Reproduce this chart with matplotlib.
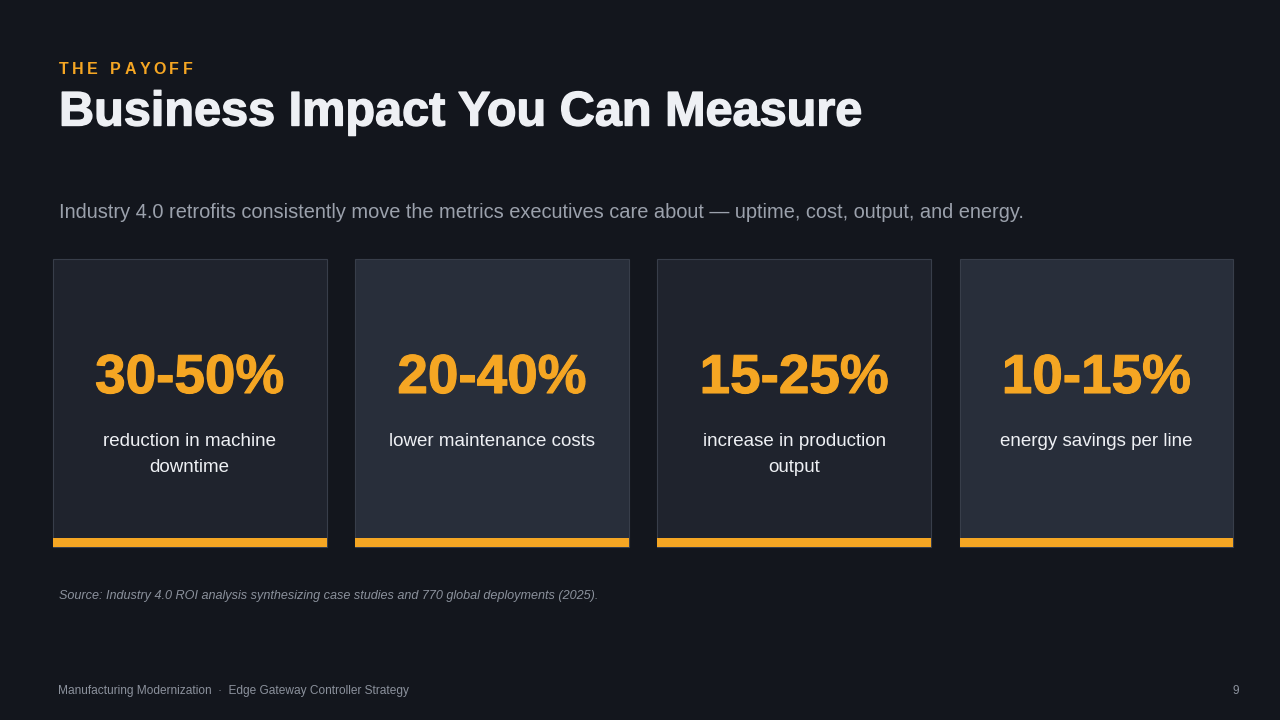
import matplotlib
matplotlib.use("Agg")
import matplotlib.pyplot as plt
import matplotlib.patheffects as pe

# ---- data ----
eyebrow = "THE PAYOFF"
title = "Business Impact You Can Measure"
subtitle = ("Industry 4.0 retrofits consistently move the metrics executives care about \u2014 "
            "uptime, cost, output, and energy.")
metric_values = ["30-50%", "20-40%", "15-25%", "10-15%"]
metric_labels = ["reduction in machine\ndowntime", "lower maintenance costs",
                 "increase in production\noutput", "energy savings per line"]
source_note = "Source: Industry 4.0 ROI analysis synthesizing case studies and 770 global deployments (2025)."
footer_left = "Manufacturing Modernization  \u00b7  Edge Gateway Controller Strategy"
page_number = "9"

# ---- style ----
BG = "#13161d"
CARD_DARK = "#1f232d"
CARD_LIGHT = "#282e3a"
BORDER = "#383e4a"
ORANGE = "#f5a623"
WHITE = "#eef0f4"
GRAY = "#9ba1ac"
DIM = "#8b919c"
FONT = "Liberation Sans"

fig = plt.figure(figsize=(12.8, 7.2), dpi=100, facecolor=BG)
ax = fig.add_axes([0, 0, 1, 1])
ax.set_xlim(0, 1280)
ax.set_ylim(720, 0)
ax.axis("off")
ax.set_facecolor(BG)

# eyebrow with letter spacing
fig.canvas.draw()
renderer = fig.canvas.get_renderer()
x = 59
for ch in eyebrow:
    t = ax.text(x, 69, ch, color=ORANGE, fontsize=11.5, fontweight="bold",
                family=FONT, va="center", ha="left")
    if ch == " ":
        w = 5
    else:
        bb = t.get_window_extent(renderer)
        w = bb.width
    x += w + 3.5

ax.text(59, 113, title, color=WHITE, fontsize=35, fontweight="bold",
        family=FONT, va="center", ha="left",
        path_effects=[pe.withStroke(linewidth=1.0, foreground=WHITE)])
ax.text(59, 212, subtitle, color=GRAY, fontsize=14.4, family=FONT,
        va="center", ha="left")

# cards
card_left0 = 53
card_w = 273.5
card_gap = 28.7
card_top = 259
card_bottom = 547
strip_h = 9
n = len(metric_values)
centers = [card_left0 + card_w / 2 + i * (card_w + card_gap) for i in range(n)]
colors = [CARD_DARK if i % 2 == 0 else CARD_LIGHT for i in range(n)]
ax.bar(centers, [card_bottom - card_top] * n, bottom=card_top, width=card_w,
       color=colors, edgecolor=BORDER, linewidth=0.8, zorder=1)
ax.bar(centers, [strip_h] * n, bottom=card_bottom - strip_h, width=card_w,
       color=ORANGE, edgecolor="none", zorder=2)

for cx, val, lab in zip(centers, metric_values, metric_labels):
    ax.text(cx, 379, val, color=ORANGE, fontsize=39.5, fontweight="bold",
            family=FONT, ha="center", va="center", zorder=3,
            path_effects=[pe.withStroke(linewidth=0.8, foreground=ORANGE)])
    ax.text(cx, 433, lab, color=WHITE, fontsize=13.5, family=FONT,
            ha="center", va="top", linespacing=1.68, zorder=3)

ax.text(59, 596, source_note, color=DIM, fontsize=9.1, style="italic",
        family=FONT, va="center", ha="left")
ax.text(58, 691, footer_left, color=DIM, fontsize=8.6, family=FONT,
        va="center", ha="left")
ax.text(1239, 691, page_number, color=DIM, fontsize=8.6, family=FONT,
        va="center", ha="right")

fig.savefig("out.png", dpi=100, facecolor=BG)
